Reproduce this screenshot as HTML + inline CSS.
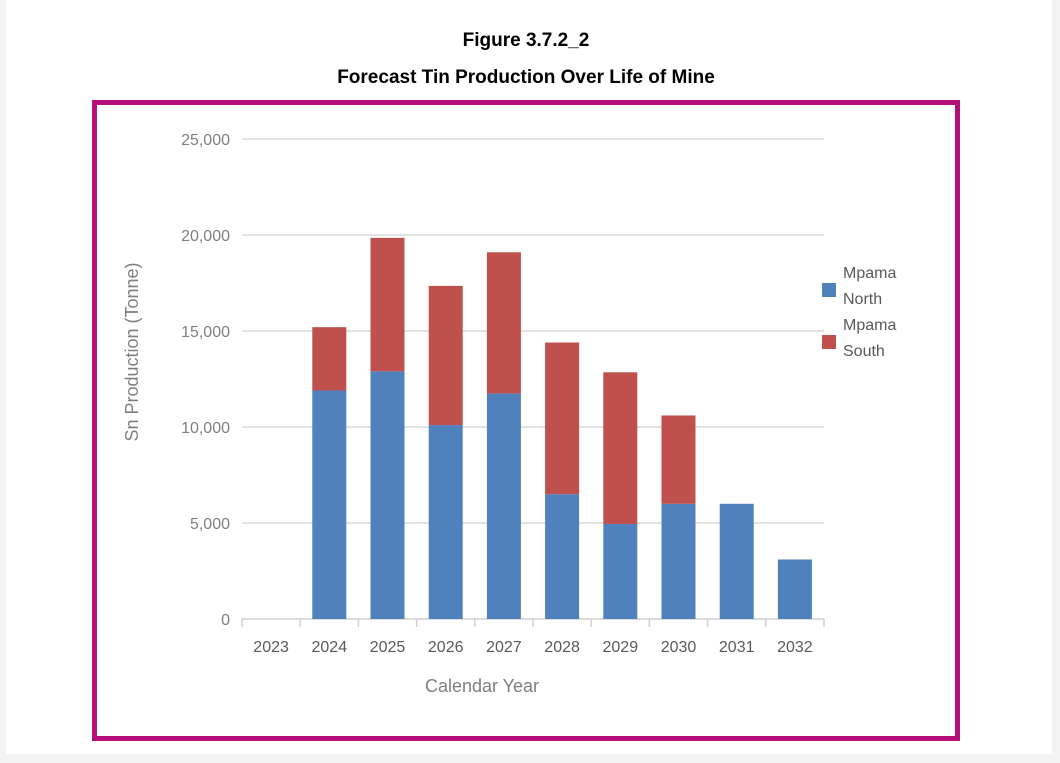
<!DOCTYPE html>
<html><head><meta charset="utf-8"><style>
body{margin:0;width:1060px;height:763px;background:#f3f3f3;font-family:"Liberation Sans",sans-serif;position:relative;overflow:hidden}
#panel{position:absolute;left:6px;top:0;width:1046px;height:754px;background:#fff}
.t{position:absolute;left:0;width:1052px;text-align:center;font-weight:bold;font-size:19px;color:#000}
#frame{position:absolute;left:92px;top:100px;width:858px;height:631px;border:5px solid #b5107a;background:#fff}
svg{position:absolute;left:0;top:0}
</style></head><body>
<div id="panel"></div>
<div class="t" style="top:30px">Figure 3.7.2_2</div>
<div class="t" style="top:67px">Forecast Tin Production Over Life of Mine</div>
<div id="frame"></div>
<svg id="chart" width="1060" height="763"></svg>
<script>
const categories=["2023","2024","2025","2026","2027","2028","2029","2030","2031","2032"];
const northValues=[0,11900,12900,10100,11750,6500,4950,6000,6000,3100];
const southValues=[0,3300,6950,7250,7350,7900,7900,4600,0,0];
const yTicks=[0,5000,10000,15000,20000,25000];
const NS="http://www.w3.org/2000/svg";
const svg=document.getElementById('chart');
const x0=242,x1=824,y0=619,yTop=139,yMax=25000;
const bw=(x1-x0)/categories.length;
const y=v=>y0-(v/yMax)*(y0-yTop);
const xc=i=>x0+bw*(i+0.5);
function mk(tag,a,txt){const e=document.createElementNS(NS,tag);for(const k in a)e.setAttribute(k,a[k]);if(txt!==undefined)e.textContent=txt;svg.appendChild(e);return e;}
const font='"Liberation Sans",sans-serif';
yTicks.forEach(v=>{
 if(v>0){const g=mk('line',{x1:x0,x2:x1,y1:y(v),y2:y(v),stroke:'#d9d9d9','stroke-width':1.5});
 
 }
 const t=mk('text',{x:230,y:y(v)+6,'text-anchor':'end','font-size':16,fill:'#7f7f7f','font-family':font},v.toLocaleString('en-US'));
 
 
});
const ax=mk('line',{x1:x0,x2:x1,y1:y0,y2:y0,stroke:'#d0d0d0','stroke-width':1.5});


for(let i=0;i<=categories.length;i++){const tk=mk('line',{x1:x0+bw*i,x2:x0+bw*i,y1:y0,y2:y0+8,stroke:'#d0d0d0','stroke-width':1.5});
 
 }
categories.forEach((c,i)=>{
 const t=mk('text',{x:xc(i),y:652,'text-anchor':'middle','font-size':16,fill:'#595959','font-family':font},c);
 
 
 const w=34;
 if(northValues[i]>0){const r=mk('rect',{x:xc(i)-w/2,y:y(northValues[i]),width:w,height:y0-y(northValues[i]),fill:'#4f81bd'});
 
 }
 if(southValues[i]>0){const top=northValues[i]+southValues[i];const r=mk('rect',{x:xc(i)-w/2,y:y(top),width:w,height:y(northValues[i])-y(top),fill:'#c0504d'});
 
 }
});
const xt=mk('text',{x:482,y:692,'text-anchor':'middle','font-size':18,fill:'#7f7f7f','font-family':font},'Calendar Year');


const yt=mk('text',{x:0,y:0,'text-anchor':'middle','font-size':18,fill:'#7f7f7f','font-family':font,transform:'translate(138,352) rotate(-90)'},'Sn Production (Tonne)');


[['#4f81bd','Mpama','North',278],['#c0504d','Mpama','South',330]].forEach((l,k)=>{
 const r=mk('rect',{x:822,y:l[3]+5,width:14,height:14,fill:l[0]});
 
 
 const a=mk('text',{x:843,y:l[3],'font-size':16,fill:'#595959','font-family':font},l[1]);
 
 
 const b=mk('text',{x:843,y:l[3]+26,'font-size':16,fill:'#595959','font-family':font},l[2]);
 
 
});
</script>
</body></html>
